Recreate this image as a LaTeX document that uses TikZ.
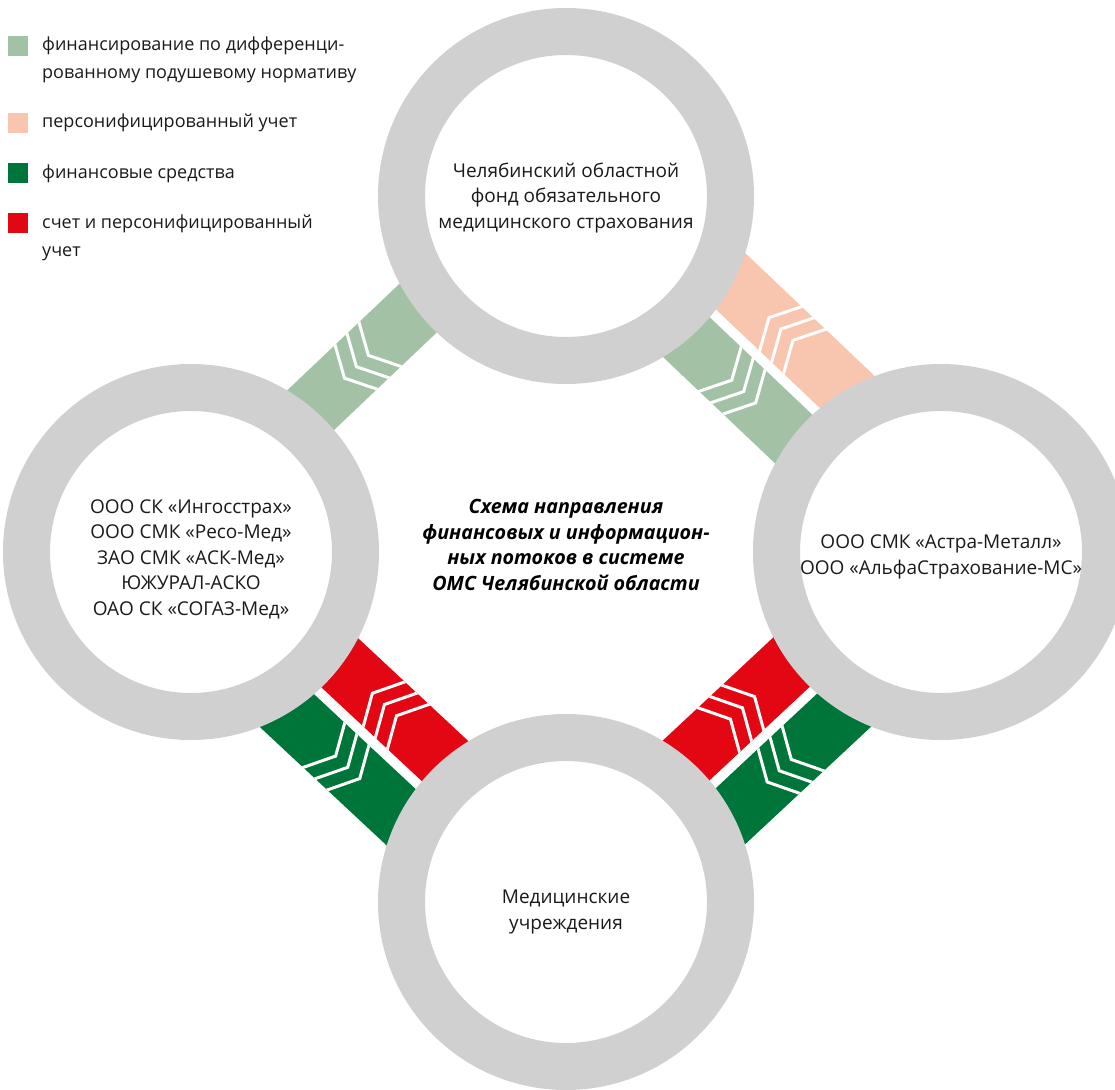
\documentclass[tikz,border=0pt]{standalone}
\usepackage{fontspec}
\setmainfont{Open Sans}
\usetikzlibrary{calc}
\definecolor{cLight}{HTML}{A3C1A4}
\definecolor{cPeach}{HTML}{F8C6AF}
\definecolor{cDark}{HTML}{007539}
\definecolor{cRed}{HTML}{E30613}
\definecolor{cRing}{HTML}{D0D0D0}
\definecolor{cText}{HTML}{1A1A1A}
\pgfdeclarelayer{bg}
\pgfsetlayers{bg,main}
\newcommand\connset[2]{%
  \pgfpointdiff{\pgfpointanchor{#1}{center}}{\pgfpointanchor{#2}{center}}%
  \pgfgetlastxy{\cdx}{\cdy}%
  \pgfmathsetmacro\cang{atan2(\cdy,\cdx)}%
  \pgfmathsetmacro\clen{veclen(\cdx,\cdy)}%
  \pgfmathsetmacro\cuc{\clen/2-3}%
}
\newcommand\lane[4]{%
  \fill[#3] (0,#1) rectangle (\clen,#2);
  \begin{scope}
    \clip (0,#1) rectangle (\clen,#2);
    \pgfmathsetmacro\vm{(#1+#2)/2}
    \pgfmathsetmacro\hv{(#2-#1)/2*1.4}
    \foreach \k in {-1,0,1}{
      \pgfmathsetmacro\uv{\cuc+16.5*\k+(#4)*8}
      \pgfmathsetmacro\ue{\uv-(#4)*16*1.4}
      \draw[chev] (\ue,\vm-\hv) -- (\uv,\vm) -- (\ue,\vm+\hv);
    }
  \end{scope}
}
\tikzset{
  ring/.style={circle, draw=cRing, fill=white, line width=47pt, minimum size=329pt,
    inner sep=0pt},
  ringtext/.style={align=center, inner sep=0pt, text=cText, font=\fontsize{19}{25.5}\selectfont},
  chev/.style={white, line width=3pt, line join=miter},
  legsq/.style={minimum size=20pt, inner sep=0pt, outer sep=0pt},
  legtext/.style={anchor=base west, align=left, inner sep=0pt, text=cText,
    font=\fontsize{18}{28}\selectfont},
  title/.style={align=center, inner sep=0pt, text=black, font=\fontsize{19.7}{25.5}\selectfont\bfseries\itshape}
}
\begin{document}
\begin{tikzpicture}[x=1pt,y=-1pt]
\useasboundingbox (0,0) rectangle (1115,1089);
% circles (nodes)
\node[ring] (top) at (566,196) {};
\node[ring] (left) at (191,552) {};
\node[ring] (right) at (941,552) {};
\node[ring] (bottom) at (566,902) {};
\node[ringtext] (top-t) at (566,198) {Челябинский областной\\фонд обязательного\\медицинского страхования};
\node[ringtext] (left-t) at (191,559) {ООО СК «Ингосстрах»\\ООО СМК «Ресо-Мед»\\ЗАО СМК «АСК-Мед»\\ЮЖУРАЛ-АСКО\\ОАО СК «СОГАЗ-Мед»};
\node[ringtext] (right-t) at (941,557) {ООО СМК «Астра-Металл»\\ООО «АльфаСтрахование-МС»};
\node[ringtext] (bottom-t) at (566,912) {Медицинские\\учреждения};
\node[title] (ttl) at (566,545) {Схема направления\\финансовых и информацион-\\ных потоков в системе\\ОМС Челябинской области};
% connectors (bands)
\begin{pgfonlayer}{bg}
\connset{left}{top}
\begin{scope}[shift={(left.center)},rotate=\cang]
  \lane{-51}{10}{cLight}{-1}
\end{scope}
\connset{top}{right}
\begin{scope}[shift={(top.center)},rotate=\cang]
  \lane{-82}{-21}{cPeach}{-1}
  \lane{-11}{50}{cLight}{1}
\end{scope}
\connset{left}{bottom}
\begin{scope}[shift={(left.center)},rotate=\cang]
  \lane{-51}{10}{cRed}{-1}
  \lane{20}{81}{cDark}{1}
\end{scope}
\connset{bottom}{right}
\begin{scope}[shift={(bottom.center)},rotate=\cang]
  \lane{-52}{9}{cRed}{1}
  \lane{19}{80}{cDark}{-1}
\end{scope}
\end{pgfonlayer}
% legend
\node[legsq, fill=cLight] (k1) at (18,46) {};
\node[legsq, fill=cPeach] (k2) at (18,123) {};
\node[legsq, fill=cDark] (k3) at (18,173) {};
\node[legsq, fill=cRed] (k4) at (18,223) {};
\node[legtext] (l1) at (42,79) {финансирование по дифференци-\\рованному подушевому нормативу};
\node[legtext] (l2) at (42,128) {персонифицированный учет};
\node[legtext] (l3) at (42,178) {финансовые средства};
\node[legtext] (l4) at (42,256) {счет и персонифицированный\\учет};
\end{tikzpicture}
\end{document}
